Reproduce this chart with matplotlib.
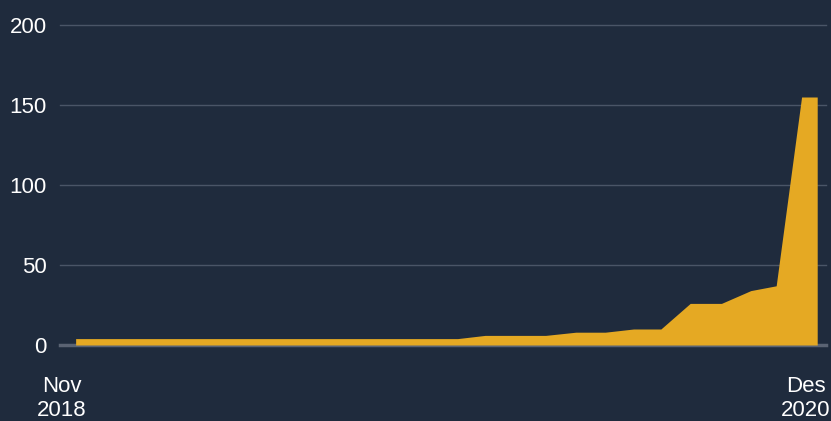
import matplotlib
matplotlib.use("Agg")
import matplotlib.pyplot as plt
import datetime as dt

dates = ["2018-11-15", "2018-12-15", "2019-01-15", "2019-02-15", "2019-03-15",
         "2019-04-15", "2019-05-15", "2019-06-15", "2019-07-15", "2019-08-15",
         "2019-09-15", "2019-10-15", "2019-11-15", "2019-12-11", "2020-01-08",
         "2020-02-08", "2020-03-10", "2020-04-10", "2020-05-10", "2020-06-08",
         "2020-07-06", "2020-08-05", "2020-09-06", "2020-10-06", "2020-11-01",
         "2020-11-27", "2020-12-13"]
values = [4, 4, 4, 4, 4, 4, 4, 4, 4, 4, 4, 4, 4, 4, 6, 6, 6, 8, 8, 10, 10, 26, 26, 34, 37, 155, 155]
y_ticks = [0, 50, 100, 150, 200]
x_tick_dates = ["2018-11-01", "2020-12-01"]
x_tick_labels = ["Nov\n2018", "Des\n2020"]

bg = "#1f2b3d"
gold = "#e5a923"
W, H = 831, 421
fig = plt.figure(figsize=(W / 100, H / 100), dpi=100, facecolor=bg)
ax = fig.add_axes([60 / W, (H - 345) / H, 766 / W, 320 / H], facecolor=bg)

x = [dt.datetime.strptime(d, "%Y-%m-%d") for d in dates]
ax.fill_between(x, 0, values, color=gold, linewidth=0, zorder=3)

for yv in y_ticks[1:]:
    ax.axhline(yv, color="#4a5567", lw=1, zorder=1, clip_on=False)
ax.axhline(0, color="#5a6373", lw=2.5, zorder=2, clip_on=False)

ax.set_ylim(0, 200)
ax.set_xlim(dt.datetime(2018, 10, 30), dt.datetime(2020, 12, 22))
ax.set_yticks(y_ticks)
ax.set_yticklabels([str(v) for v in y_ticks])
ax.set_xticks([dt.datetime.strptime(d, "%Y-%m-%d") for d in x_tick_dates])
ax.set_xticklabels(x_tick_labels, linespacing=1.2)

for s in ax.spines.values():
    s.set_visible(False)
ax.tick_params(axis="both", length=0, colors="white", labelsize=16)
ax.tick_params(axis="y", pad=9.5)
ax.tick_params(axis="x", pad=22)
for lab in ax.get_xticklabels() + ax.get_yticklabels():
    lab.set_fontfamily("Liberation Sans")

fig.savefig("out.png", dpi=100, facecolor=bg)
